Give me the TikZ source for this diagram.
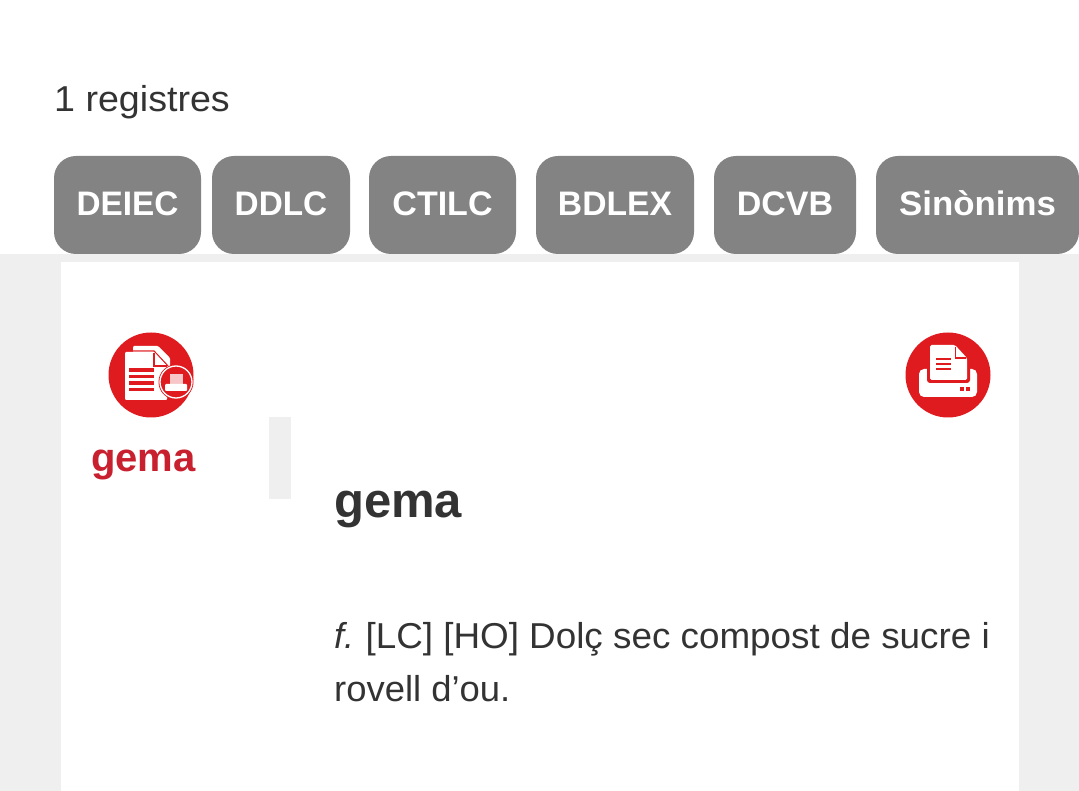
\documentclass[tikz,border=0pt]{standalone}
\usepackage{fontspec}
\setmainfont{Liberation Sans}
\newcommand{\stretchto}[1]{\addfontfeature{FakeStretch=#1}}
\definecolor{pagegrey}{HTML}{EFEFEF}
\definecolor{btngrey}{HTML}{838383}
\definecolor{txt}{HTML}{333333}
\definecolor{iconred}{HTML}{E01B1F}
\definecolor{wordred}{HTML}{C8202F}
\tikzset{
 x=1pt,y=-1pt,
 btn/.style={fill=btngrey,rounded corners=22pt,draw=none},
 btnlabel/.style={text=white,font=\fontsize{34}{34}\selectfont\bfseries,inner sep=0pt,anchor=base},
 body/.style={text=txt,font=\fontsize{36}{36}\selectfont,inner sep=0pt,anchor=base west},
 ic/.style={fill=white,draw=none},
 icline/.style={iconred,line width=2.4pt},
}
\newcommand{\btnbox}[5]{%
 \fill[btn] (#1,156) rectangle (#2,254);
 \node[btnlabel] (#4) at ({(#1+#2)/2},216) {\stretchto{#5}#3};}
\begin{document}
\begin{tikzpicture}
\useasboundingbox (0,0) rectangle (1079,791);
\fill[white] (0,0) rectangle (1079,791);
\fill[pagegrey] (0,254) rectangle (1079,791);
\fill[white] (61,262) rectangle (1019,791);
\fill[pagegrey] (269,417) rectangle (291,499);
\node[body] (count) at (54,112) {\stretchto{1.045}1 registres};
\btnbox{54}{201}{DEIEC}{b1}{0.98}
\btnbox{212}{350}{DDLC}{b2}{0.98}
\btnbox{369}{516}{CTILC}{b3}{1.0}
\btnbox{536}{694}{BDLEX}{b4}{0.99}
\btnbox{714}{856}{DCVB}{b5}{1.0}
\btnbox{876}{1079}{Sinònims}{b6}{1.025}
% icon left
\fill[iconred] (151,375) circle (42.5);
\fill[ic,rounded corners=1pt] (133,346) -- (158,346) -- (170,358) -- (170,372) -- (133,372) -- cycle;
\draw[iconred,line width=1.2pt] (125,351) -- (154,351) -- (168,366);
\fill[ic,rounded corners=1pt] (125,352) -- (154,352) -- (167,366) -- (167,400) -- (125,400) -- cycle;
\draw[iconred,line width=1.2pt] (154,353) -- (154,366) -- (167,366);
\fill[iconred] (129,368.5) rectangle (154,372);
\fill[iconred] (129,375) rectangle (154,378.5);
\fill[iconred] (129,381.5) rectangle (154,385);
\fill[iconred] (129,388) rectangle (154,391.5);
\fill[iconred] (176,382) circle (17.5);
\draw[white,line width=1.3pt] (176,382) circle (16);
\fill[white!75!iconred] (170,374) rectangle (183,385);
\fill[white,rounded corners=1pt] (165,384) rectangle (187,391);
% icon right
\fill[iconred] (948,375) circle (42.5);
\fill[ic,rounded corners=5pt] (919,369) rectangle (977,397);
\fill[iconred,rounded corners=3pt] (927,363) rectangle (970,383);
\fill[ic,rounded corners=1.5pt] (930,345) -- (955,345) -- (967,358) -- (967,380) -- (930,380) -- cycle;
\draw[iconred,line width=1.2pt] (955.5,347) -- (955.5,358) -- (966,358);
\draw[icline] (936,359) -- (951,359);
\draw[icline] (936,364) -- (951,364);
\draw[icline] (936,369) -- (951,369);
\fill[iconred] (960,387) rectangle (964,391);
\fill[iconred] (966,387) rectangle (970,391);
% texts
\node[text=wordred,font=\fontsize{40}{40}\selectfont\bfseries,inner sep=0pt,anchor=base] (w1) at (143.5,471) {gema};
\node[text=txt,font=\fontsize{49}{49}\selectfont\bfseries,inner sep=0pt,anchor=base west] (w2) at (334,517) {gema};
\node[body] (def1) at (334,648) {\textit{f.}\hspace{-2pt} {\stretchto{1.023}[LC] [HO] Dolç sec compost de sucre i}};
\node[body] (def2) at (334,701) {\stretchto{1.012}rovell d’ou.};
\end{tikzpicture}
\end{document}
